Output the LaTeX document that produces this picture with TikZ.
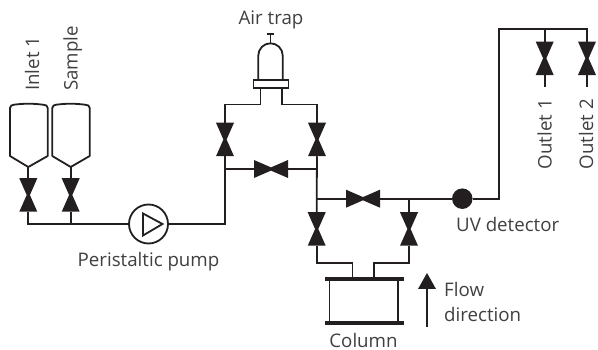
\documentclass[tikz,border=0pt]{standalone}
\usepackage{fontspec}
\setmainfont{Open Sans}
\definecolor{ink}{HTML}{231F20}
\definecolor{txt}{HTML}{404040}
\tikzset{
  pipe/.style={draw=ink,line width=1.8pt},
  lbl/.style={text=txt,font=\fontsize{18.7}{23}\selectfont,inner sep=0pt},
  box/.style={inner sep=0pt,outer sep=0pt,minimum width=0pt,minimum height=0pt},
  vv/.style={box,minimum width=18pt,minimum height=33.5pt},
  hv/.style={box,minimum width=34pt,minimum height=18pt},
  plate/.style={fill=ink,box,minimum width=79pt,minimum height=3.8pt},
}
\newcommand{\vvalve}[3]{%
  \node[vv] (#1) at (#2,#3) {};
  \fill[ink] (#1.north west) -- (#1.north east) -- ([xshift=1.6pt]#1.center) -- (#1.south east) -- (#1.south west) -- ([xshift=-1.6pt]#1.center) -- cycle;}
\newcommand{\hvalve}[3]{%
  \node[hv] (#1) at (#2,#3) {};
  \fill[ink] (#1.north west) -- ([yshift=1.6pt]#1.center) -- (#1.north east) -- (#1.south east) -- ([yshift=-1.6pt]#1.center) -- (#1.south west) -- cycle;}
\begin{document}
\begin{tikzpicture}[x=1pt,y=-1pt]
\useasboundingbox (0,0) rectangle (598,350);
% tanks
\coordinate (t1) at (28.3,167);
\coordinate (t2) at (70.7,167);
\draw[pipe,line join=round] (t1) -- (10,156) -- (10,108) .. controls (10,105.5) and (12,105) .. (14,104.7) .. controls (24,103.4) and (33,103.4) .. (43,104.7) .. controls (46,105) and (47.7,105.5) .. (47.7,108) -- (47.7,156) -- cycle;
\draw[pipe,line join=round] (t2) -- (52.3,156) -- (52.3,108) .. controls (52.3,105.5) and (54.3,105) .. (56.3,104.7) .. controls (66,103.4) and (75,103.4) .. (85,104.7) .. controls (88,105) and (89.7,105.5) .. (89.7,108) -- (89.7,156) -- cycle;
% valves
\vvalve{v1}{28.3}{195}
\vvalve{v2}{70.7}{195}
\vvalve{v3}{225}{139.5}
\vvalve{v4}{317}{139.5}
\hvalve{v5}{271}{169}
\hvalve{v6}{363}{198.7}
\vvalve{v7}{316.7}{229}
\vvalve{v8}{409}{229}
\vvalve{v9}{544.7}{58.3}
\vvalve{v10}{587}{58.3}
% pump, detector
\node[circle,draw=ink,line width=1.8pt,fill=white,box,minimum size=39pt] (pump) at (148.5,224) {};
\draw[pipe,line join=miter] (143,213.5) -- (162.5,224) -- (143,235.5) -- cycle;
\node[circle,fill=ink,box,minimum size=20.5pt] (uv) at (462.3,198.7) {};
% air trap
\node[draw=ink,line width=1.8pt,box,minimum width=35pt,minimum height=8pt] (flange) at (271,84) {};
\coordinate (fl) at (260.5,88);
\coordinate (fr) at (281.7,88);
\draw[pipe] (258.3,80) -- (258.3,55.5) arc[start angle=180,end angle=360,radius=12.2] -- (282.7,80);
\coordinate (stemb) at (270.5,43.3);
\coordinate (stemt) at (270.5,34);
\draw[pipe] (stemb) -- (stemt);
\draw[pipe] (266.8,34) -- (274.2,34);
% column
\node[plate] (ctop) at (364.3,279) {};
\node[plate] (cbot) at (364.3,322.7) {};
\draw[pipe] (329.5,279) -- (329.5,322.7);
\draw[pipe] (398.2,279) -- (398.2,322.7);
% junctions
\coordinate (j1) at (28.3,224);
\coordinate (j2) at (70.7,224);
\coordinate (j3) at (225,224);
\coordinate (j4) at (225,104.5);
\coordinate (j5) at (317,104.5);
\coordinate (j6) at (225,169);
\coordinate (j7) at (317,169);
\coordinate (j8) at (316.7,198.7);
\coordinate (j9) at (409,198.7);
\coordinate (c1) at (352.5,263);
\coordinate (c2) at (374.3,263);
\coordinate (d1) at (499,198.7);
\coordinate (d2) at (499,29);
\coordinate (d3) at (587,29);
\coordinate (d4) at (544.7,29);
\coordinate (o1) at (544.7,87);
\coordinate (o2) at (587,87);
% pipes
\draw[pipe] (t1) -- (v1.north);
\draw[pipe] (t2) -- (v2.north);
\draw[pipe] (v1.south) -- (j1) -- (pump.west);
\draw[pipe] (v2.south) -- (j2);
\draw[pipe,line join=miter] (pump.east) -- (j3) -- (v3.south);
\draw[pipe,line join=miter] (v3.north) -- (j4) -- (j4 -| fl) -- (fl);
\draw[pipe,line join=miter] (v4.north) -- (j5) -- (j5 -| fr) -- (fr);
\draw[pipe] (j6) -- (v5.west);
\draw[pipe] (v5.east) -- (j7);
\draw[pipe,line join=miter] (v4.south) -- (j8) -- (v7.north);
\draw[pipe] (j8) -- (v6.west);
\draw[pipe] (v6.east) -- (uv.west);
\draw[pipe] (j9) -- (v8.north);
\draw[pipe,line join=miter] (v7.south) -- (v7.south |- c1) -- (c1) -- (c1 |- ctop.north);
\draw[pipe,line join=miter] (v8.south) -- (v8.south |- c2) -- (c2) -- (c2 |- ctop.north);
\draw[pipe,line join=miter] (uv.east) -- (d1) -- (d2) -- (d3) -- (v10.north);
\draw[pipe] (d4) -- (v9.north);
\draw[pipe] (v9.south) -- (o1);
\draw[pipe] (v10.south) -- (o2);
% flow arrow
\coordinate (fa) at (427,327);
\coordinate (fb) at (427,288);
\draw[pipe] (fa) -- (fb);
\fill[ink] (427,273) -- (436,289) -- (418,289) -- cycle;
% labels
\node[lbl,rotate=90,anchor=base west] (l1) at (39,91) {Inlet 1};
\node[lbl,rotate=90,anchor=base west] (l2) at (77.5,91) {Sample};
\node[lbl,anchor=base] (l3) at (148.5,267) {Peristaltic pump};
\node[lbl,anchor=base] (l4) at (271,24.5) {Air trap};
\node[lbl,anchor=base west] (l5) at (456,232) {UV detector};
\node[lbl,anchor=base] (l6) at (363.5,347.5) {Column};
\node[lbl,anchor=base west] (l7) at (444,296.5) {Flow};
\node[lbl,anchor=base west] (l8) at (444,321.5) {direction};
\node[lbl,rotate=90,anchor=base east] (l9) at (551.7,99) {Outlet 1};
\node[lbl,rotate=90,anchor=base east] (l10) at (593,99) {Outlet 2};
\end{tikzpicture}
\end{document}
